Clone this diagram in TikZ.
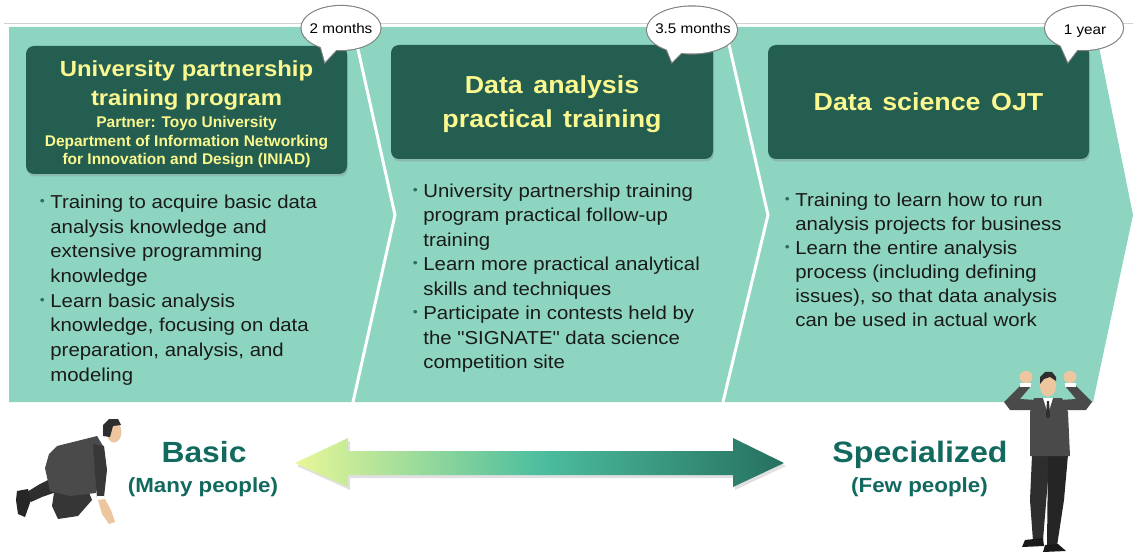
\documentclass[tikz,border=0pt]{standalone}
\usepackage{fontspec}
\newfontfamily\wide{Liberation Sans}[FakeStretch=1.09]
\newfontfamily\plain{Liberation Sans}
\usetikzlibrary{shadows}

\definecolor{band}{HTML}{8DD5C1}
\definecolor{boxc}{HTML}{245E50}
\definecolor{ttl}{HTML}{FAF88E}
\definecolor{lvl}{HTML}{126A5E}
\definecolor{bulc}{HTML}{2F6B5E}
\definecolor{ink}{HTML}{1A1A1A}
\definecolor{suit}{HTML}{4A4A4A}
\definecolor{suitd}{HTML}{2E2E2E}
\definecolor{skin}{HTML}{EDC6A0}
\definecolor{arrL}{HTML}{E8F797}
\definecolor{arrM}{HTML}{4DBE9F}
\definecolor{arrR}{HTML}{267060}

% bullet mark and hanging indent for continuation lines
\newcommand\bul{\makebox[10.5pt][l]{\raisebox{3pt}{\fontsize{13}{13}\selectfont\color{bulc}\textbullet}}}
\newcommand\bulskip{\hspace*{10.5pt}}
\newcommand\ws{\hspace{10.5pt}}

% multi-line nodes sit on the baseline of their last line
\tikzset{
  titlebox/.style={fill=boxc, rounded corners=8pt, inner sep=0pt,
    drop shadow={opacity=0.3, shadow xshift=1pt, shadow yshift=-2.5pt}},
  titletext/.style={text=ttl, inner sep=0pt, align=center, anchor=base},
  bullets/.style={align=left, inner sep=0pt, text=ink, anchor=base west},
  bubbleline/.style={draw=black!50, line width=2.2pt},
  badge/.style={inner sep=0pt, anchor=base, font=\wide\fontsize{14}{16}\selectfont},
  level/.style={inner sep=0pt, anchor=base, text=lvl}
}

\begin{document}
\begin{tikzpicture}[x=1pt,y=-1pt]
\useasboundingbox (0,0) rectangle (1133,553);

% band of three chevron panels
\draw[black!18, line width=0.8pt] (4,23) -- (1133,23);
\fill[band] (9,27) -- (1095,27) -- (1133,215) -- (1093,402) -- (9,402) -- cycle;
\draw[white, line width=3pt] (353,27) -- (395,215) -- (353,402);
\draw[white, line width=3pt] (725,27) -- (768,215) -- (723,402);

% title boxes
\node[titlebox, minimum width=321pt, minimum height=128pt] (box1) at (186.5,110) {};
\node[titlebox, minimum width=322pt, minimum height=114pt] (box2) at (552,102) {};
\node[titlebox, minimum width=321pt, minimum height=114pt] (box3) at (928.5,102) {};

\node[titletext, font=\wide\bfseries\fontsize{21.9}{29}\selectfont] (t1) at (186.5,106)
  {University partnership\\training program};
\node[titletext, font=\plain\bfseries\fontsize{15.5}{18.5}\selectfont] (t1s) at (186.5,165)
  {Partner: Toyo University\\Department of Information Networking\\for Innovation and Design (INIAD)};
\node[titletext, font=\wide\bfseries\fontsize{24.6}{34}\selectfont] (t2) at (552,128)
  {Data\ws analysis\\practical\ws training};
\node[titletext, font=\wide\bfseries\fontsize{24.6}{34}\selectfont] (t3) at (928.5,111)
  {Data\ws science\ws OJT};

% duration call-outs
\draw[bubbleline] (341,28) ellipse [x radius=39.5, y radius=22];
\draw[bubbleline] (320,44) -- (325,62) -- (338,48);
\fill[white] (341,28) ellipse [x radius=39.5, y radius=22];
\fill[white] (320,44) -- (325,62) -- (338,48) -- cycle;
\node[badge] (d1) at (341,34) {2 months};

\draw[bubbleline] (692,30) ellipse [x radius=45, y radius=23.5];
\draw[bubbleline] (665,45) -- (672,62) -- (684,50);
\fill[white] (692,30) ellipse [x radius=45, y radius=23.5];
\fill[white] (665,45) -- (672,62) -- (684,50) -- cycle;
\node[badge] (d2) at (693,34) {3.5 months};

\draw[bubbleline] (1084,28) ellipse [x radius=39, y radius=22];
\draw[bubbleline] (1060,44) -- (1068,62) -- (1078,49);
\fill[white] (1084,28) ellipse [x radius=39, y radius=22];
\fill[white] (1060,44) -- (1068,62) -- (1078,49) -- cycle;
\node[badge] (d3) at (1085,35) {1 year};

% bullet lists
\node[bullets, font=\wide\fontsize{18.7}{24.7}\selectfont] (p1) at (39.7,381.2)
  {\bul Training to acquire basic data\\
   \bulskip analysis knowledge and\\
   \bulskip extensive programming\\
   \bulskip knowledge\\
   \bul Learn basic analysis\\
   \bulskip knowledge, focusing on data\\
   \bulskip preparation, analysis, and\\
   \bulskip modeling};
\node[bullets, font=\wide\fontsize{18.7}{24.5}\selectfont] (p2) at (412.7,368.8)
  {\bul University partnership training\\
   \bulskip program practical follow-up\\
   \bulskip training\\
   \bul Learn more practical analytical\\
   \bulskip skills and techniques\\
   \bul Participate in contests held by\\
   \bulskip the "SIGNATE" data science\\
   \bulskip competition site};
\node[bullets, font=\wide\fontsize{18.7}{24}\selectfont] (p3) at (784.7,326.7)
  {\bul Training to learn how to run\\
   \bulskip analysis projects for business\\
   \bul Learn the entire analysis\\
   \bulskip process (including defining\\
   \bulskip issues), so that data analysis\\
   \bulskip can be used in actual work};

% crouching figure
\fill[suitd] (52,478) -- (62,490) -- (42,497) -- (31,502) -- (27,492) -- (40,484) -- cycle;
\fill[black!85] (17,491) -- (28,489) -- (31,500) -- (25,517) -- (18,514) -- (16,500) -- cycle;
\fill[suitd!70!suit] (55,486) -- (88,490) -- (92,500) -- (78,516) -- (58,519) -- (52,506) -- cycle;
\fill[suit] (57,446) -- (97,436) -- (103,446) -- (101,470) -- (96,493) -- (70,496) -- (50,491) -- (45,468) -- (49,454) -- cycle;
\fill[suit!75!black] (93,444) -- (104,446) -- (107,470) -- (104,497) -- (97,498) -- (95,472) -- cycle;
\fill[white] (97,496) rectangle (104,500);
\fill[skin] (98,500) -- (105,499) -- (111,510) -- (115,522) -- (109,524) -- (102,514) -- cycle;
\fill[skin] (114,432) ellipse [x radius=7.5, y radius=10.5];
\fill[suitd] (103,436) -- (103,425) -- (109,419) -- (118,419) -- (121,425) -- (113,426) -- (110,437) -- cycle;

% standing figure with raised arms
\fill[suitd] (1032,455) -- (1050,455) -- (1043,540) -- (1033,541) -- (1030,500) -- cycle;
\fill[suitd!80!black] (1048,455) -- (1068,455) -- (1064,500) -- (1057,546) -- (1047,546) -- cycle;
\fill[black!90] (1025,540) -- (1043,538) -- (1044,546) -- (1022,547) -- cycle;
\fill[black!90] (1045,545) -- (1058,544) -- (1066,551) -- (1043,552) -- cycle;
\fill[suit] (1034,398) -- (1062,398) -- (1068,412) -- (1070,456) -- (1030,456) -- (1030,412) -- cycle;
\fill[white] (1043,398) -- (1053,398) -- (1048,414) -- cycle;
\fill[suitd] (1047,401) -- (1049,401) -- (1050,416) -- (1048,419) -- (1046,416) -- cycle;
\fill[suit] (1021,385) -- (1031,386) -- (1020,399) -- (1036,400) -- (1036,410) -- (1010,410) -- (1004,402) -- cycle;
\fill[suit] (1075,385) -- (1065,386) -- (1076,399) -- (1060,400) -- (1060,410) -- (1086,410) -- (1092,402) -- cycle;
\fill[white] (1020,383) rectangle (1031,387);
\fill[white] (1065,383) rectangle (1076,387);
\fill[skin] (1026,377) ellipse [x radius=6.5, y radius=6];
\fill[skin] (1070,377) ellipse [x radius=6.5, y radius=6];
\fill[skin] (1048,386) ellipse [x radius=8, y radius=10.5];
\fill[suitd] (1040,384) -- (1040,377) -- (1045,372) -- (1052,372) -- (1056,377) -- (1056,381) -- (1050,377) -- (1044,379) -- cycle;

% double arrow from basic to specialized
\fill[black!35, opacity=0.35] (297,466) -- (350,441) -- (350,454) -- (735,454) -- (735,441) -- (786,466) -- (735,490) -- (735,478) -- (350,478) -- (350,490) -- cycle;
\shade[left color=arrL, right color=arrR, middle color=arrM]
  (295,463) -- (348,438) -- (348,451) -- (733,451) -- (733,438) -- (784,463)
  -- (733,487) -- (733,475) -- (348,475) -- (348,487) -- cycle;

% level labels
\node[level, font=\wide\bfseries\fontsize{29.2}{32}\selectfont] (basic) at (204,462) {Basic};
\node[level, font=\wide\bfseries\fontsize{20.5}{24}\selectfont] (many) at (203,492) {(Many people)};
\node[level, font=\wide\bfseries\fontsize{29.5}{32}\selectfont] (special) at (920,462) {Specialized};
\node[level, font=\wide\bfseries\fontsize{20.5}{24}\selectfont] (few) at (919.5,492) {(Few people)};
\end{tikzpicture}
\end{document}
